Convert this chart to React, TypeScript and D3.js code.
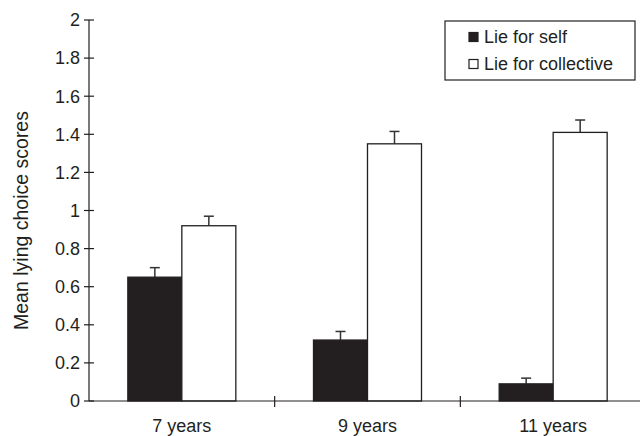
import { scaleBand, scaleLinear, range } from "d3";

const categories = ["7 years", "9 years", "11 years"];
const series = ["Lie for self", "Lie for collective"];
const selfMeans = [0.65, 0.32, 0.09];
const selfErr = [0.05, 0.045, 0.03];
const collectiveMeans = [0.92, 1.35, 1.41];
const collectiveErr = [0.05, 0.065, 0.065];
const yTicks = range(0, 2.01, 0.2);

const W = 640;
const H = 436;
const M = { top: 20, right: -6, bottom: 35, left: 89 };
const FONT = "Liberation Sans, Arial, Helvetica, sans-serif";
const INK = "#231f20";
const FS = 18;

export default function App() {
  const innerW = W - M.left - M.right;
  const innerH = H - M.top - M.bottom;

  const x = scaleBand<string>().domain(categories).range([0, innerW]);
  const inner = scaleBand<string>().domain(series).range([0, 108]);
  const y = scaleLinear().domain([0, 2]).range([innerH, 0]);

  const groups = [
    { key: series[0], means: selfMeans, errs: selfErr, fill: INK },
    { key: series[1], means: collectiveMeans, errs: collectiveErr, fill: "#fff" },
  ];

  return (
    <svg width={W} height={H} style={{ position: "absolute", left: 0, top: 0, fontFamily: FONT }}>
      <rect width={W} height={H} fill="#fff" />
      <g transform={`translate(${M.left},${M.top})`}>
        {/* bars */}
        {categories.map((c, i) => {
          const gx = (x(c) ?? 0) + x.bandwidth() / 2 - 54;
          return (
            <g key={c}>
              {groups.map((g) => {
                const bx = gx + (inner(g.key) ?? 0);
                const bw = inner.bandwidth();
                const top = y(g.means[i]);
                const errTop = y(g.means[i] + g.errs[i]);
                const cx = bx + bw / 2;
                return (
                  <g key={g.key}>
                    <line x1={cx} x2={cx} y1={top} y2={errTop} stroke="#333" strokeWidth={1.5} />
                    <line x1={cx - 5} x2={cx + 5} y1={errTop} y2={errTop} stroke="#333" strokeWidth={1.5} />
                    <rect x={bx} y={top} width={bw} height={innerH - top} fill={g.fill} stroke={INK} strokeWidth={1.3} />
                  </g>
                );
              })}
              <text x={(x(c) ?? 0) + x.bandwidth() / 2} y={innerH + 31} textAnchor="middle" fontSize={FS} fill={INK}>
                {c}
              </text>
            </g>
          );
        })}

        {/* y axis */}
        <line x1={0} x2={0} y1={0} y2={innerH} stroke={INK} strokeWidth={1.2} />
        {yTicks.map((t) => (
          <g key={t}>
            <line x1={-5} x2={5} y1={y(t)} y2={y(t)} stroke={INK} strokeWidth={1.2} />
            <text x={-9} y={y(t)} dy="0.35em" textAnchor="end" fontSize={FS} fill={INK}>
              {+t.toFixed(1)}
            </text>
          </g>
        ))}

        {/* x axis */}
        <line x1={0} x2={innerW} y1={innerH} y2={innerH} stroke={INK} strokeWidth={1.2} />
        {categories.slice(1).map((c) => (
          <line key={c} x1={x(c)} x2={x(c)} y1={innerH - 5} y2={innerH + 6} stroke={INK} strokeWidth={1.2} />
        ))}

        <text
          transform={`translate(${-61},${innerH / 2 + 10}) rotate(-90)`}
          textAnchor="middle"
          fontSize={19.5}
          fill={INK}
        >
          Mean lying choice scores
        </text>
      </g>

      {/* Legend */}
      <g transform="translate(445,21)">
        <rect width={190} height={59} fill="#fff" stroke={INK} strokeWidth={1.2} />
        {groups.map((g, i) => (
          <g key={g.key} transform={`translate(24,${16 + i * 27})`}>
            <rect x={0} y={-4.5} width={9} height={9} fill={g.fill} stroke={INK} strokeWidth={1.2} />
            <text x={15} y={0} dy="0.35em" fontSize={FS} fill={INK}>
              {g.key}
            </text>
          </g>
        ))}
      </g>
    </svg>
  );
}
